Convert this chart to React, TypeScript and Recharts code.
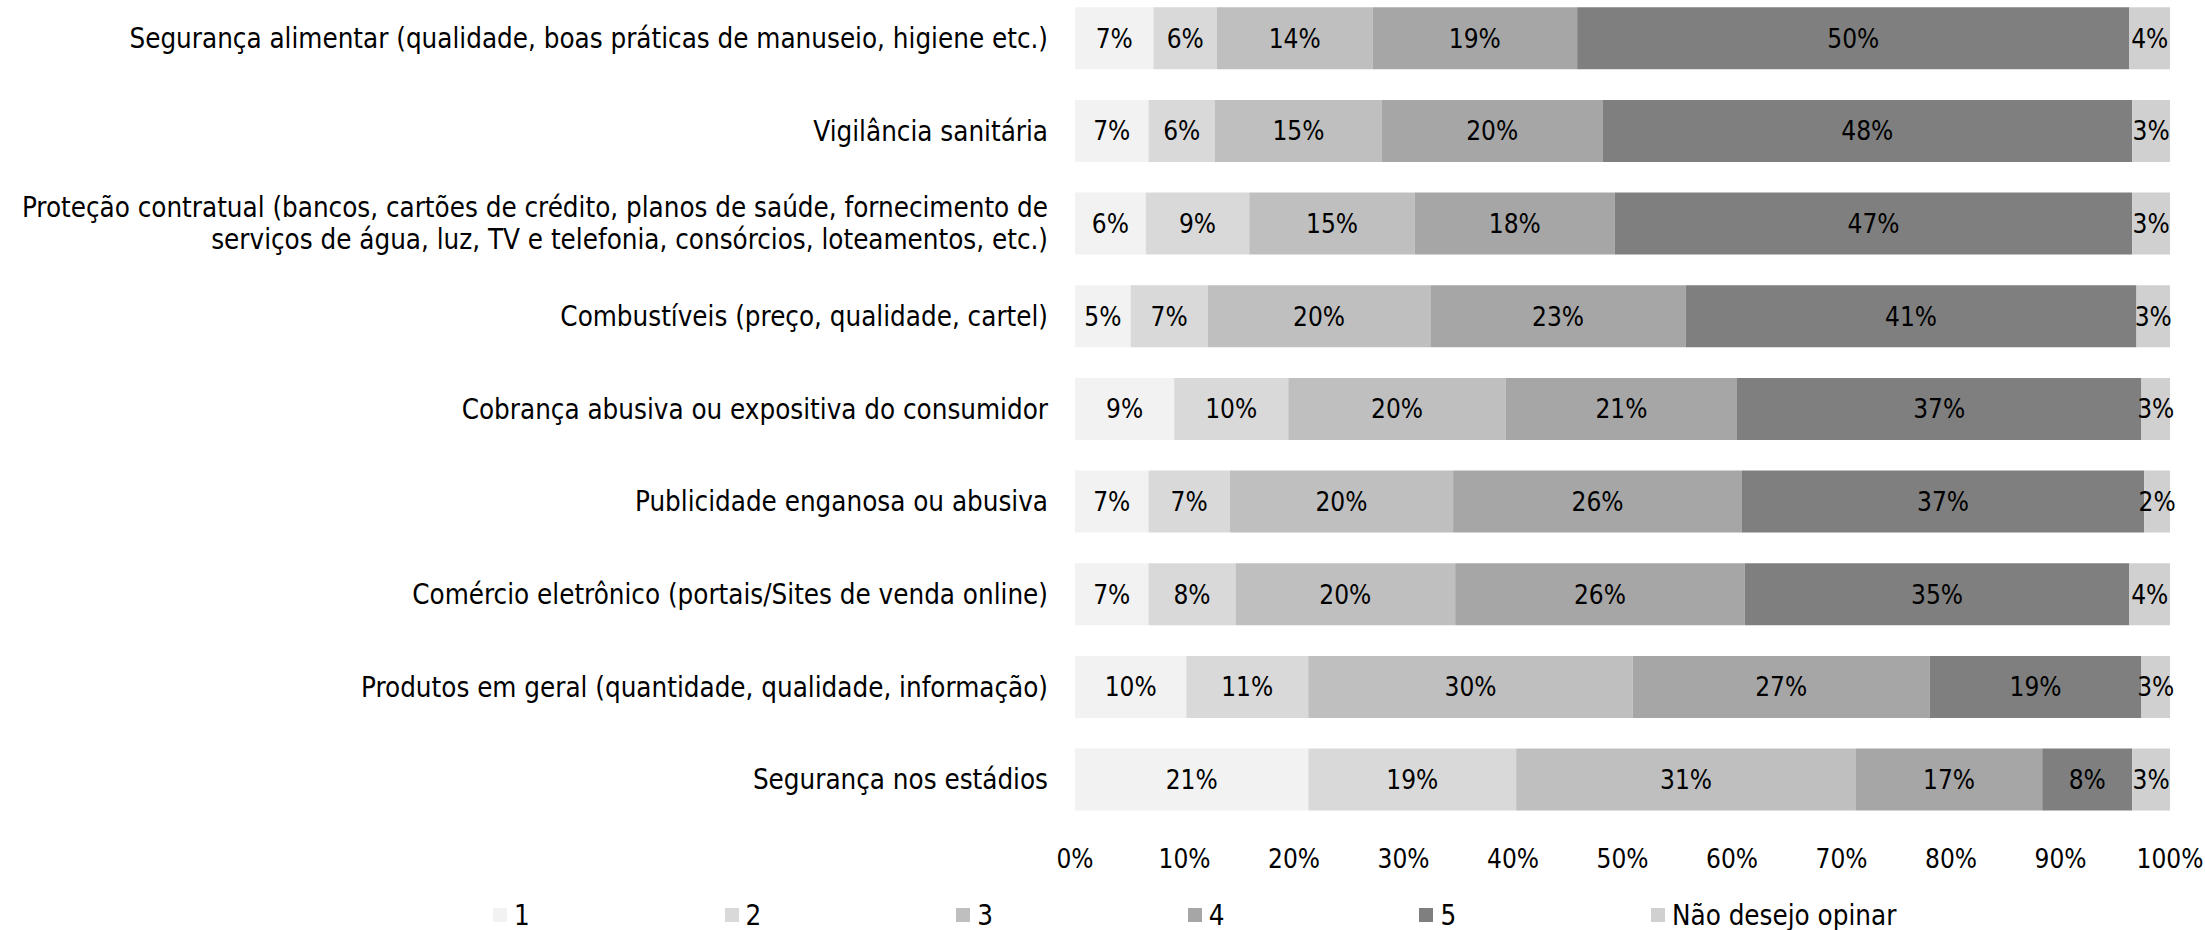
import React from 'react';
import { BarChart, Bar, XAxis, YAxis, Legend, LabelList } from 'recharts';

const categories = [
  'Segurança alimentar (qualidade, boas práticas de manuseio, higiene etc.)',
  'Vigilância sanitária',
  'Proteção contratual (bancos, cartões de crédito, planos de saúde, fornecimento de|serviços de água, luz, TV e telefonia, consórcios, loteamentos, etc.)',
  'Combustíveis (preço, qualidade, cartel)',
  'Cobrança abusiva ou expositiva do consumidor',
  'Publicidade enganosa ou abusiva',
  'Comércio eletrônico (portais/Sites de venda online)',
  'Produtos em geral (quantidade, qualidade, informação)',
  'Segurança nos estádios',
];

const s1 = [7.17, 6.71, 6.45, 5.08, 9.06, 6.71, 6.71, 10.16, 21.3];
const s2 = [5.79, 6.06, 9.45, 7.04, 10.42, 7.43, 7.95, 11.14, 18.96];
const s3 = [14.21, 15.24, 15.1, 20.33, 19.87, 20.39, 20.06, 29.64, 31.01];
const s4 = [18.69, 20.13, 18.25, 23.32, 21.11, 26.38, 26.45, 27.11, 17.0];
const s5 = [50.43, 48.34, 47.2, 41.17, 36.94, 36.74, 35.12, 19.34, 8.21];
const s6 = [3.71, 3.45, 3.45, 3.06, 2.61, 2.35, 3.71, 2.61, 3.45];

const seriesNames = ['1', '2', '3', '4', '5', 'Não desejo opinar'];
const seriesKeys = ['s1', 's2', 's3', 's4', 's5', 's6'];
const seriesColors = ['#f2f2f2', '#d9d9d9', '#bfbfbf', '#a6a6a6', '#7f7f7f', '#d0d0d0'];
const xTicks = [0, 0.1, 0.2, 0.3, 0.4, 0.5, 0.6, 0.7, 0.8, 0.9, 1];

const data = categories.map((name, i) => ({
  name,
  s1: s1[i],
  s2: s2[i],
  s3: s3[i],
  s4: s4[i],
  s5: s5[i],
  s6: s6[i],
}));

const FONT = '"DejaVu Sans Condensed", "DejaVu Sans", sans-serif';
const FS = 27.5;
const FS_SMALL = 26;

const CategoryTick = (props: any) => {
  const { x, y, payload } = props;
  const lines = String(payload.value).split('|');
  const lh = 32;
  const start = -((lines.length - 1) * lh) / 2;
  return (
    <g>
      {lines.map((l, i) => (
        <text
          key={i}
          x={x}
          y={y + start + i * lh}
          dy="0.35em"
          textAnchor="end"
          fontFamily={FONT}
          fontSize={FS}
          fill="#000"
        >
          {l}
        </text>
      ))}
    </g>
  );
};

const LegendContent = () => (
  <div style={{ position: 'relative', height: 54, width: 2205 }}>
    {seriesNames.map((n, i) => (
      <div
        key={n}
        style={{
          position: 'absolute',
          left: 493 + i * 231.6,
          top: 26,
          display: 'flex',
          alignItems: 'center',
          fontFamily: FONT,
          fontSize: FS,
          lineHeight: '26px',
          color: '#000',
          whiteSpace: 'nowrap',
        }}
      >
        <span
          style={{
            display: 'inline-block',
            width: 14,
            height: 14,
            background: seriesColors[i],
            marginRight: 7,
          }}
        />
        {n}
      </div>
    ))}
  </div>
);

export default function App() {
  return (
    <div style={{ position: 'absolute', left: 0, top: -8, width: 2205, height: 938, background: '#fff' }}>
      <BarChart
        width={2205}
        height={938}
        data={data}
        layout="vertical"
        stackOffset="expand"
        barCategoryGap="16.5%"
        margin={{ top: 0, right: 35, bottom: 0, left: 0 }}
      >
        <XAxis
          type="number"
          domain={[0, 1]}
          ticks={xTicks}
          tickFormatter={(v: number) => `${Math.round(v * 100)}%`}
          axisLine={false}
          tickLine={false}
          tickSize={0}
          tickMargin={24}
          height={50}
          interval={0}
          tick={{ fontFamily: FONT, fontSize: FS_SMALL, fill: '#000' }}
        />
        <YAxis
          type="category"
          dataKey="name"
          width={1075}
          axisLine={false}
          tickLine={false}
          tickSize={0}
          tickMargin={27}
          interval={0}
          tick={<CategoryTick />}
        />
        <Legend verticalAlign="bottom" content={<LegendContent />} wrapperStyle={{ left: 0, width: 2205 }} />
        {seriesKeys.map((k, i) => (
          <Bar
            key={k}
            dataKey={k}
            name={seriesNames[i]}
            stackId="a"
            fill={seriesColors[i]}
            isAnimationActive={false}
          >
            <LabelList
              dataKey={k}
              position="center"
              formatter={(v: any) => `${Math.round(Number(v))}%`}
              style={{ fontFamily: FONT, fontSize: FS_SMALL, fill: '#000' }}
            />
          </Bar>
        ))}
      </BarChart>
    </div>
  );
}
